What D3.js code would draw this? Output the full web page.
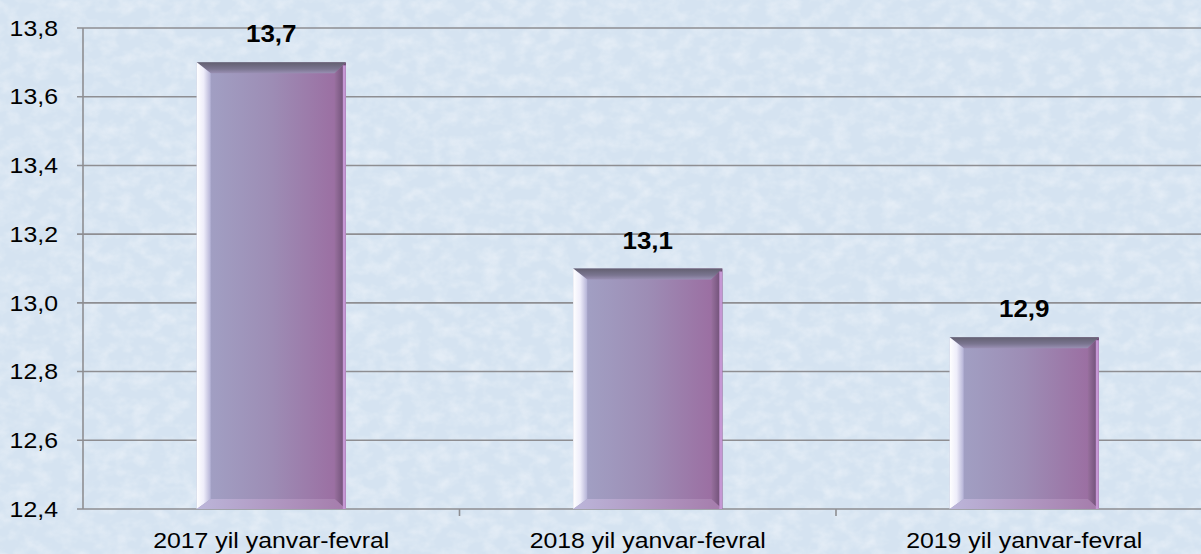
<!DOCTYPE html>
<html lang="en">
<head>
    <meta charset="UTF-8">
    <script src="https://cdn.jsdelivr.net/npm/d3@7"></script>
    <title>Bar chart</title>
    <style>
        html, body {
            margin: 0;
            padding: 0;
            overflow: hidden;
            background: #d9e6f3;
        }
        text {
            font-family: 'Liberation Sans', Arial, sans-serif;
        }
    </style>
</head>
<body>
<div id="chart"></div>

<script>
    // chart data
    const categories = ["2017 yil yanvar-fevral", "2018 yil yanvar-fevral", "2019 yil yanvar-fevral"];
    const values = [13.7, 13.1, 12.9];
    const yTicks = [12.4, 12.6, 12.8, 13.0, 13.2, 13.4, 13.6, 13.8];

    const width = 1201, height = 554;
    const margin = { top: 28, right: -11.5, bottom: 45, left: 83 };
    const stretch = 1.13;   // text in the picture is a bit wider than normal Arial

    const svg = d3.select("#chart").append("svg")
        .attr("width", width)
        .attr("height", height);

    const defs = svg.append("defs");

    // soft paper-like texture for the background
    const tex = defs.append("filter").attr("id", "tex")
        .attr("x", 0).attr("y", 0).attr("width", "100%").attr("height", "100%");
    tex.append("feTurbulence")
        .attr("type", "fractalNoise")
        .attr("baseFrequency", "0.06 0.08")
        .attr("numOctaves", 3)
        .attr("seed", 7)
        .attr("result", "noise");
    tex.append("feColorMatrix")
        .attr("in", "noise")
        .attr("type", "matrix")
        .attr("values", "0 0 0 0 1  0 0 0 0 1  0 0 0 0 1  0 0 0 -1.8 1.1")
        .attr("result", "spots");
    tex.append("feComposite").attr("in", "spots").attr("in2", "SourceGraphic").attr("operator", "in");

    svg.append("rect")
        .attr("width", width).attr("height", height)
        .attr("fill", "#d5e3f1");
    svg.append("rect")
        .attr("width", width).attr("height", height)
        .attr("fill", "#ffffff")
        .attr("opacity", 0.4)
        .attr("filter", "url(#tex)");

    // gradients for the bevelled bars
    function linGrad(id, x1, y1, x2, y2, stops) {
        const g = defs.append("linearGradient").attr("id", id)
            .attr("x1", x1).attr("y1", y1).attr("x2", x2).attr("y2", y2);
        stops.forEach(s => g.append("stop").attr("offset", s[0]).attr("stop-color", s[1]));
    }
    linGrad("body", 0, 0, 1, 0, [[0, "#a2a3c6"], [0.5, "#9d8db5"], [1, "#9b6a9f"]]);
    linGrad("bevTop", 0, 0, 0, 1, [[0, "#625f70"], [0.6, "#7a7590"], [1, "#9a90b4"]]);
    linGrad("bevLeft", 0, 0, 1, 0, [[0, "#ffffff"], [0.5, "#eeedfa"], [1, "#b4b2d6"]]);
    linGrad("bevRight", 0, 0, 1, 0, [[0, "#98709e"], [1, "#684a70"]]);
    linGrad("bevBottom", 0, 0, 1, 0, [[0, "#bcb6da"], [1, "#a57cab"]]);

    const x = d3.scaleBand()
        .domain(categories)
        .range([margin.left, width - margin.right])
        .padding(0);

    const y = d3.scaleLinear()
        .domain([12.4, 13.8])
        .range([height - margin.bottom, margin.top]);

    const fmt = v => d3.format(".1f")(v).replace(".", ",");

    // gridlines
    svg.append("g")
        .selectAll("line")
        .data(yTicks)
        .join("line")
        .attr("x1", margin.left - 6)
        .attr("x2", width - margin.right)
        .attr("y1", d => y(d))
        .attr("y2", d => y(d))
        .attr("stroke", "#8e8e92")
        .attr("stroke-width", 1.6);

    // y axis line
    svg.append("line")
        .attr("x1", margin.left).attr("x2", margin.left)
        .attr("y1", y(13.8)).attr("y2", y(12.4))
        .attr("stroke", "#8e8e92")
        .attr("stroke-width", 1.6);

    // x ticks between categories
    svg.append("g")
        .selectAll("line")
        .data(categories.slice(1))
        .join("line")
        .attr("x1", d => x(d)).attr("x2", d => x(d))
        .attr("y1", y(12.4)).attr("y2", y(12.4) + 7)
        .attr("stroke", "#8e8e92")
        .attr("stroke-width", 1.6);

    // y tick labels
    svg.append("g")
        .selectAll("g")
        .data(yTicks)
        .join("g")
        .attr("transform", d => `translate(${margin.left - 25},${y(d)}) scale(${stretch},1)`)
        .append("text")
        .attr("text-anchor", "end")
        .attr("dy", "0.35em")
        .attr("font-size", 22)
        .attr("fill", "#000")
        .text(d => fmt(d));

    // category labels
    svg.append("g")
        .selectAll("g")
        .data(categories)
        .join("g")
        .attr("transform", d => `translate(${x(d) + x.bandwidth() / 2},${y(12.4) + 39}) scale(${stretch},1)`)
        .append("text")
        .attr("text-anchor", "middle")
        .attr("font-size", 22)
        .attr("fill", "#000")
        .text(d => d);

    // bars
    const barW = x.bandwidth() * 0.396;
    const bev = { top: 11, left: 14, right: 11, bottom: 10 };

    const bars = svg.append("g")
        .selectAll("g")
        .data(categories.map((c, i) => ({ cat: c, val: values[i] })))
        .join("g");

    bars.each(function (d) {
        const g = d3.select(this);
        const x0 = x(d.cat) + (x.bandwidth() - barW) / 2;
        const x1 = x0 + barW;
        const y0 = y(d.val);
        const y1 = y(12.4);

        g.append("rect")
            .attr("x", x0).attr("y", y0)
            .attr("width", barW).attr("height", y1 - y0)
            .attr("fill", "url(#body)");

        const poly = (pts, fill) => g.append("polygon")
            .attr("points", pts.map(p => p.join(",")).join(" "))
            .attr("fill", fill);

        // top bevel
        poly([[x0, y0], [x1, y0], [x1 - bev.right, y0 + bev.top], [x0 + bev.left, y0 + bev.top]], "url(#bevTop)");
        // left bevel
        poly([[x0, y0], [x0 + bev.left, y0 + bev.top], [x0 + bev.left, y1 - bev.bottom], [x0, y1]], "url(#bevLeft)");
        // right bevel
        poly([[x1, y0], [x1, y1], [x1 - bev.right, y1 - bev.bottom], [x1 - bev.right, y0 + bev.top]], "url(#bevRight)");
        // bottom bevel
        poly([[x0, y1], [x0 + bev.left, y1 - bev.bottom], [x1 - bev.right, y1 - bev.bottom], [x1, y1]], "url(#bevBottom)");
        // thin light edge on the right side
        g.append("rect")
            .attr("x", x1 - 3).attr("y", y0 + 3)
            .attr("width", 3).attr("height", y1 - y0 - 3)
            .attr("fill", "#c597d4");

        // value label
        g.append("g")
            .attr("transform", `translate(${(x0 + x1) / 2},${y0 - 20}) scale(${stretch},1)`)
            .append("text")
            .attr("text-anchor", "middle")
            .attr("font-size", 23)
            .attr("font-weight", "bold")
            .attr("fill", "#000")
            .text(fmt(d.val));
    });
</script>
</body>
</html>
